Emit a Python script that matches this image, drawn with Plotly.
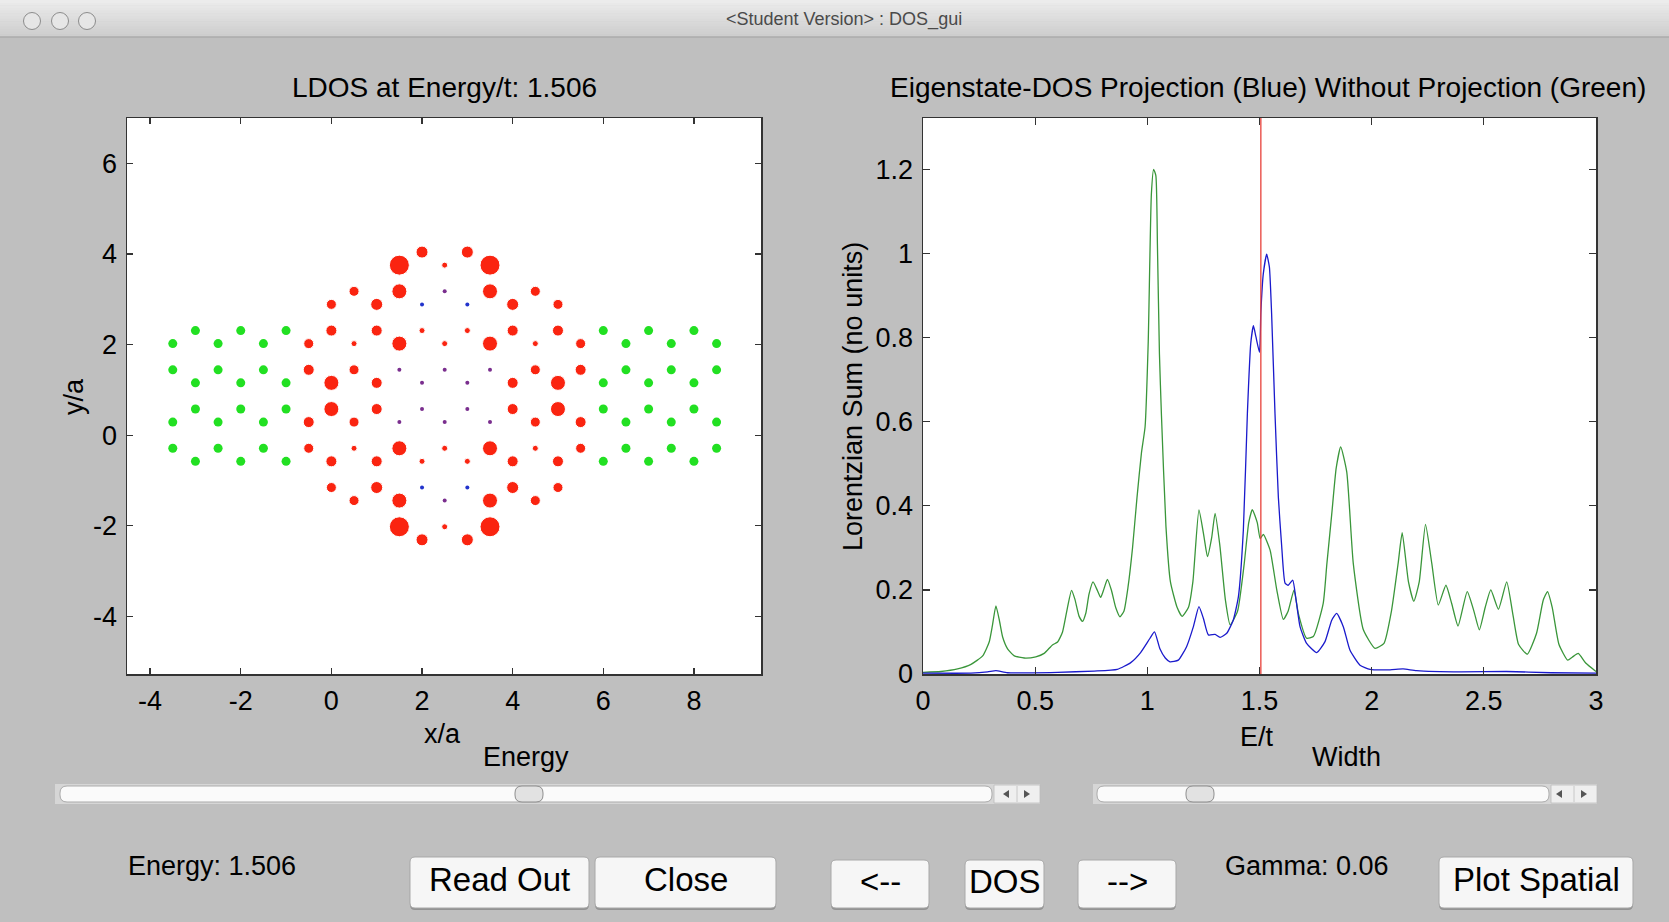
import plotly.graph_objects as go

# ---------------- data ----------------
energy_now = 1.506
gamma = 0.06

# lead (ribbon) sites, green
lead_x = [-3, -2, -1, 6, 7, 8,
          -3.5, -2.5, -1.5, 6.5, 7.5, 8.5,
          -3.5, -2.5, -1.5, 6.5, 7.5, 8.5,
          -3, -2, -1, 6, 7, 8,
          -3, -2, -1, 6, 7, 8,
          -3.5, -2.5, -1.5, 6.5, 7.5, 8.5,
          -3.5, -2.5, -1.5, 6.5, 7.5, 8.5,
          -3, -2, -1, 6, 7, 8]
lead_y = [2.309] * 6 + [2.021] * 6 + [1.443] * 6 + [1.155] * 6 + \
         [0.577] * 6 + [0.289] * 6 + [-0.289] * 6 + [-0.577] * 6

# device sites with visible LDOS (red), relative LDOS weight
dev_x = [2, 3,
         1.5, 2.5, 3.5,
         0.5, 1.5, 3.5, 4.5,
         0, 1, 4, 5,
         0, 1, 2, 3, 4, 5,
         -0.5, 0.5, 1.5, 2.5, 3.5, 4.5, 5.5,
         -0.5, 0.5, 4.5, 5.5,
         0, 1, 4, 5,
         0, 1, 4, 5,
         -0.5, 0.5, 4.5, 5.5,
         -0.5, 0.5, 1.5, 2.5, 3.5, 4.5, 5.5,
         0, 1, 2, 3, 4, 5,
         0, 1, 4, 5,
         0.5, 1.5, 3.5, 4.5,
         1.5, 2.5, 3.5,
         2, 3]
dev_y = [4.041] * 2 + [3.753] * 3 + [3.175] * 4 + [2.887] * 4 + [2.309] * 6 + \
        [2.021] * 7 + [1.443] * 4 + [1.155] * 4 + [0.577] * 4 + [0.289] * 4 + \
        [-0.289] * 7 + [-0.577] * 6 + [-1.155] * 4 + [-1.443] * 4 + \
        [-2.021] * 3 + [-2.309] * 2
dev_ldos = [0.6, 0.6,
            1.0, 0.3, 1.0,
            0.5, 0.75, 0.75, 0.5,
            0.5, 0.6, 0.6, 0.5,
            0.55, 0.55, 0.3, 0.3, 0.55, 0.55,
            0.5, 0.3, 0.75, 0.3, 0.75, 0.3, 0.5,
            0.55, 0.5, 0.5, 0.55,
            0.75, 0.55, 0.55, 0.75,
            0.75, 0.55, 0.55, 0.75,
            0.55, 0.5, 0.5, 0.55,
            0.5, 0.3, 0.75, 0.3, 0.75, 0.3, 0.5,
            0.55, 0.55, 0.3, 0.3, 0.55, 0.55,
            0.5, 0.6, 0.6, 0.5,
            0.5, 0.75, 0.75, 0.5,
            1.0, 0.3, 1.0,
            0.6, 0.6]

# device sites with vanishing LDOS (purple / blue)
weak_x = [2.5, 1.5, 2.5, 3.5, 2, 3, 2, 3, 1.5, 2.5, 3.5, 2.5]
weak_y = [3.175, 1.443, 1.443, 1.443, 1.155, 1.155, 0.577, 0.577,
          0.289, 0.289, 0.289, -1.443]
node_x = [2, 3, 2, 3]
node_y = [2.887, 2.887, -1.155, -1.155]

# DOS without projection (green)
e_green = [0.0, 0.08, 0.154, 0.214, 0.266, 0.295, 0.31, 0.325, 0.34, 0.355,
           0.377, 0.407, 0.451, 0.503, 0.54, 0.577, 0.6, 0.622, 0.644, 0.662,
           0.677, 0.696, 0.711, 0.726, 0.74, 0.758, 0.777, 0.792, 0.807, 0.822,
           0.84, 0.859, 0.878, 0.896, 0.914, 0.934, 0.954, 0.974, 0.99, 1.004,
           1.018, 1.028, 1.038, 1.045, 1.054, 1.063, 1.083, 1.103, 1.133, 1.155,
           1.183, 1.203, 1.23, 1.253, 1.268, 1.287, 1.302, 1.323, 1.348, 1.369,
           1.402, 1.432, 1.452, 1.468, 1.49, 1.503, 1.517, 1.547, 1.577, 1.606,
           1.628, 1.654, 1.673, 1.71, 1.74, 1.784, 1.80, 1.822, 1.842, 1.862,
           1.889, 1.918, 1.963, 2.015, 2.055, 2.088, 2.118, 2.136, 2.164, 2.188,
           2.212, 2.24, 2.268, 2.297, 2.331, 2.357, 2.385, 2.426, 2.456, 2.48,
           2.506, 2.531, 2.565, 2.602, 2.63, 2.655, 2.694, 2.735, 2.765, 2.784,
           2.805, 2.835, 2.874, 2.894, 2.921, 2.954, 3.0]
dos_green = [0.004, 0.006, 0.012, 0.023, 0.043, 0.076, 0.117, 0.162, 0.129, 0.088,
             0.06, 0.043, 0.038, 0.041, 0.049, 0.069, 0.076, 0.1, 0.158, 0.199,
             0.178, 0.137, 0.125, 0.145, 0.19, 0.219, 0.199, 0.182, 0.203, 0.225,
             0.199, 0.158, 0.136, 0.15, 0.207, 0.3, 0.42, 0.527, 0.588, 0.79,
             1.141, 1.2, 1.185, 1.02, 0.76, 0.614, 0.351, 0.219, 0.158, 0.137,
             0.158, 0.219, 0.39, 0.325, 0.279, 0.325, 0.382, 0.307, 0.176, 0.117,
             0.149, 0.263, 0.36, 0.391, 0.36, 0.322, 0.332, 0.295, 0.2, 0.13,
             0.15, 0.2, 0.144, 0.085, 0.089, 0.168, 0.26, 0.38, 0.49, 0.54,
             0.48, 0.263, 0.105, 0.061, 0.073, 0.149, 0.263, 0.336, 0.219, 0.173,
             0.219, 0.356, 0.263, 0.164, 0.211, 0.167, 0.114, 0.196, 0.149, 0.105,
             0.158, 0.2, 0.154, 0.219, 0.14, 0.07, 0.047, 0.097, 0.176, 0.196,
             0.158, 0.07, 0.033, 0.04, 0.049, 0.026, 0.006]

# eigenstate-projected DOS (blue)
e_blue = [0.0, 0.214, 0.288, 0.325, 0.377, 0.6, 0.763, 0.866, 0.926, 0.97,
          1.012, 1.032, 1.056, 1.08, 1.101, 1.138, 1.175, 1.205, 1.23, 1.25,
          1.272, 1.302, 1.324, 1.354, 1.383, 1.406, 1.428, 1.446, 1.461, 1.473,
          1.484, 1.5, 1.506, 1.517, 1.532, 1.544, 1.554, 1.569, 1.584, 1.599,
          1.614, 1.628, 1.648, 1.663, 1.681, 1.71, 1.755, 1.792, 1.822, 1.844,
          1.874, 1.903, 1.948, 1.993, 2.082, 2.14, 2.2, 2.4, 2.6, 2.8, 3.0]
dos_blue = [0.002, 0.002, 0.005, 0.008, 0.003, 0.004, 0.007, 0.011, 0.027, 0.051,
            0.085, 0.1, 0.06, 0.038, 0.029, 0.033, 0.065, 0.112, 0.16, 0.132,
            0.093, 0.094, 0.087, 0.097, 0.128, 0.184, 0.342, 0.62, 0.786, 0.828,
            0.802, 0.765, 0.86, 0.952, 0.998, 0.968, 0.857, 0.62, 0.421, 0.303,
            0.216, 0.211, 0.223, 0.176, 0.112, 0.073, 0.051, 0.077, 0.128, 0.144,
            0.112, 0.057, 0.021, 0.011, 0.01, 0.012, 0.008, 0.005, 0.006, 0.003, 0.002]

x_ticks_left = [-4, -2, 0, 2, 4, 6, 8]
y_ticks_left = [-4, -2, 0, 2, 4, 6]
x_ticks_right = [0, 0.5, 1, 1.5, 2, 2.5, 3]
y_ticks_right = [0, 0.2, 0.4, 0.6, 0.8, 1, 1.2]

buttons = ["Read Out", "Close", "<--", "DOS", "-->", "Plot Spatial"]

# ---------------- layout helpers ----------------
W, H = 1669, 922
FONT = "Liberation Sans, Arial, Helvetica, sans-serif"


def X(p):
    return p / W


def Y(p):
    return 1 - p / H


def rrect(x0, y0, x1, y1, r, fill, line="rgba(0,0,0,0)", lw=0, layer="above"):
    pts = [
        ("M", [(x0 + r, y0)]), ("L", [(x1 - r, y0)]), ("Q", [(x1, y0), (x1, y0 + r)]),
        ("L", [(x1, y1 - r)]), ("Q", [(x1, y1), (x1 - r, y1)]), ("L", [(x0 + r, y1)]),
        ("Q", [(x0, y1), (x0, y1 - r)]), ("L", [(x0, y0 + r)]), ("Q", [(x0, y0), (x0 + r, y0)]),
    ]
    path = ""
    for cmd, ps in pts:
        path += cmd + " " + " ".join(f"{X(a):.6f},{Y(b):.6f}" for a, b in ps) + " "
    path += "Z"
    return dict(type="path", path=path, xref="paper", yref="paper", fillcolor=fill,
                line=dict(color=line, width=lw), layer=layer)


def rect(x0, y0, x1, y1, fill, line="rgba(0,0,0,0)", lw=0, layer="above"):
    return dict(type="rect", xref="paper", yref="paper", x0=X(x0), x1=X(x1), y0=Y(y1), y1=Y(y0),
                fillcolor=fill, line=dict(color=line, width=lw), layer=layer)


def text(x, y, s, size=27, color="black", angle=0, family=FONT):
    return dict(x=X(x), y=Y(y), xref="paper", yref="paper", text=s, showarrow=False,
                xanchor="center", yanchor="middle", textangle=angle,
                font=dict(size=size, color=color, family=family))


# ---------------- figure ----------------
fig = go.Figure()

fig.add_trace(go.Scatter(x=lead_x, y=lead_y, mode="markers", xaxis="x", yaxis="y",
                         marker=dict(size=9, color="#22E022", symbol="circle", opacity=1),
                         hoverinfo="skip"))
fig.add_trace(go.Scatter(x=dev_x, y=dev_y, mode="markers", xaxis="x", yaxis="y",
                         marker=dict(size=[20 * v for v in dev_ldos], color="#FA2410",
                                     symbol="circle", opacity=1),
                         hoverinfo="skip"))
fig.add_trace(go.Scatter(x=weak_x, y=weak_y, mode="markers", xaxis="x", yaxis="y",
                         marker=dict(size=4, color="#7A2E8E", opacity=1), hoverinfo="skip"))
fig.add_trace(go.Scatter(x=node_x, y=node_y, mode="markers", xaxis="x", yaxis="y",
                         marker=dict(size=4, color="#2233CC", opacity=1), hoverinfo="skip"))

fig.add_trace(go.Scatter(x=e_green, y=dos_green, mode="lines", xaxis="x2", yaxis="y2",
                         line=dict(color="#3A963A", width=1.3, shape="spline", smoothing=0.5),
                         hoverinfo="skip"))
fig.add_trace(go.Scatter(x=e_blue, y=dos_blue, mode="lines", xaxis="x2", yaxis="y2",
                         line=dict(color="#1A1ACC", width=1.3, shape="spline", smoothing=0.5),
                         hoverinfo="skip"))
fig.add_trace(go.Scatter(x=[energy_now, energy_now], y=[0, 1.322], mode="lines", xaxis="x2", yaxis="y2",
                         line=dict(color="#E8403A", width=1.3), hoverinfo="skip"))

axis_common = dict(showgrid=False, zeroline=False, showline=True, linecolor="#333333", linewidth=1.5,
                   mirror="ticks", ticks="inside", tickcolor="#333333", tickwidth=1.3,
                   automargin=False,
                   tickfont=dict(size=27, color="black", family=FONT))

fig.update_layout(
    template="none",
    width=W, height=H, autosize=False,
    margin=dict(l=0, r=0, t=0, b=0, pad=0, autoexpand=False),
    paper_bgcolor="#BFBFBF", plot_bgcolor="white",
    showlegend=False,
    xaxis=dict(domain=[X(127), X(761)], range=[-4.51, 9.48], anchor="y",
               tickvals=x_ticks_left, ticktext=[str(v) for v in x_ticks_left], ticklen=6,
               ticklabelstandoff=2, **axis_common),
    yaxis=dict(domain=[Y(674), Y(118)], range=[-5.27, 7.0], anchor="x",
               tickvals=y_ticks_left, ticktext=[str(v) for v in y_ticks_left], ticklen=6,
               ticklabelstandoff=3, **axis_common),
    xaxis2=dict(domain=[X(923), X(1596)], range=[0, 3], anchor="y2",
                tickvals=x_ticks_right, ticktext=[f"{v:g}" for v in x_ticks_right], ticklen=7,
                ticklabelstandoff=2, **axis_common),
    yaxis2=dict(domain=[Y(674), Y(118)], range=[0, 1.322], anchor="x2",
                tickvals=y_ticks_right, ticktext=[f"{v:g}" for v in y_ticks_right], ticklen=7,
                ticklabelstandoff=3, **axis_common),
)

shapes = []
# window title bar
n = 14
for i in range(n):
    c = int(236 - 30 * i / (n - 1))
    shapes.append(rect(0, 37 * i / n, W, 37 * (i + 1) / n + 0.5, f"rgb({c},{c},{c})"))
shapes.append(dict(type="line", xref="paper", yref="paper", x0=0, x1=1, y0=Y(37), y1=Y(37),
                   line=dict(color="#9A9A9A", width=1.2)))
for cx in (32, 60, 87):
    shapes.append(dict(type="circle", xref="paper", yref="paper", x0=X(cx - 8.5), x1=X(cx + 8.5),
                       y0=Y(21 + 8.5), y1=Y(21 - 8.5), fillcolor="#E6E6E6",
                       line=dict(color="#8C8C8C", width=1)))

# sliders
for (sx0, sx1, tx0, tx1, th, arr) in [(55, 1040, 60, 992, 529, (1006, 1027)),
                                      (1093, 1597, 1097, 1549, 1200, (1559, 1584))]:
    shapes.append(rect(sx0, 784, sx1, 804, "#D6D6D6"))
    shapes.append(rrect(tx0, 786, tx1, 802, 7, "#FAFAFA", "#ABABAB", 1))
    shapes.append(rect(tx1 + 2, 785, sx1, 803, "#EFEFEF", "#BDBDBD", 0.8))
    shapes.append(dict(type="line", xref="paper", yref="paper", x0=X((tx1 + sx1) / 2 + 1),
                       x1=X((tx1 + sx1) / 2 + 1), y0=Y(786), y1=Y(802),
                       line=dict(color="#C8C8C8", width=1)))
    al, ar = arr
    shapes.append(dict(type="path", xref="paper", yref="paper",
                       path=f"M {X(al + 3):.6f},{Y(790):.6f} L {X(al - 3):.6f},{Y(794):.6f} "
                            f"L {X(al + 3):.6f},{Y(798):.6f} Z",
                       fillcolor="#555555", line=dict(width=0)))
    shapes.append(dict(type="path", xref="paper", yref="paper",
                       path=f"M {X(ar - 3):.6f},{Y(790):.6f} L {X(ar + 3):.6f},{Y(794):.6f} "
                            f"L {X(ar - 3):.6f},{Y(798):.6f} Z",
                       fillcolor="#555555", line=dict(width=0)))
    shapes.append(rrect(th - 14, 786, th + 14, 802, 7, "#E2E2E2", "#8E8E8E", 1))

# buttons
button_boxes = [(410, 857, 589, 908), (595, 857, 776, 908), (831, 860, 929, 908),
                (965, 860, 1044, 908), (1078, 860, 1176, 908), (1439, 857, 1633, 908)]
for (bx0, by0, bx1, by1) in button_boxes:
    shapes.append(rrect(bx0, by0 + 2, bx1, by1 + 2, 5, "rgba(110,110,110,0.55)"))
    shapes.append(rrect(bx0, by0, bx1, by1, 5, "#F6F6F6", "#A8A8A8", 1))

fig.update_layout(shapes=shapes)

ann = [
    text(844, 20, "&lt;Student Version&gt; : DOS_gui", size=18, color="#4A4A4A"),
    text(444, 88, f"LDOS at Energy/t: {energy_now:.3f}", size=28),
    text(1268, 88, "Eigenstate-DOS Projection (Blue) Without Projection (Green)", size=28),
    text(442, 734, "x/a"),
    text(1257, 737, "E/t"),
    text(74, 397, "y/a", angle=-90),
    text(853, 397, "Lorentzian Sum (no units)", angle=-90),
    text(526, 757, "Energy"),
    text(1346, 757, "Width"),
    text(212, 866, f"Energy: {energy_now:.3f}"),
    text(1307, 866, f"Gamma: {gamma:g}"),
]
for label, (bx0, by0, bx1, by1) in zip(buttons, button_boxes):
    lab = label.replace("<", "&lt;").replace(">", "&gt;")
    ann.append(text((bx0 + bx1) / 2, (by0 + by1) / 2 - 3, lab, size=33))
fig.update_layout(annotations=ann)

fig.write_html("out.html", config={"displayModeBar": False, "staticPlot": True},
               post_script="document.body.style.margin='0px';document.body.style.background='#BFBFBF';"
                           "document.body.style.overflow='hidden';")
